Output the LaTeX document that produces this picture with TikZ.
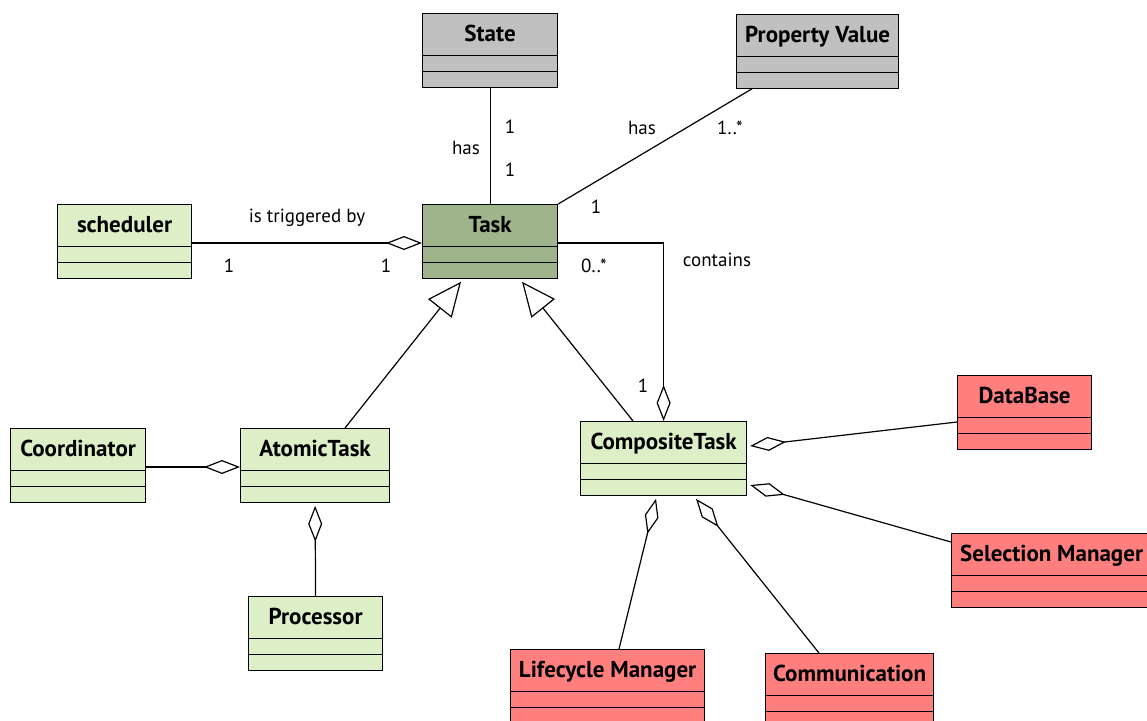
\documentclass[tikz,border=0pt]{standalone}
\usepackage{fontspec}
\usepackage{xcolor}
\usetikzlibrary{arrows.meta,shapes.multipart}
\newfontfamily\umlfont{PT Sans}
\definecolor{umlgray}{HTML}{C0C0C0}
\definecolor{umltask}{HTML}{9FB48A}
\definecolor{umllight}{HTML}{DCEFC7}
\definecolor{umlred}{HTML}{FF7F7F}
\newcommand{\classtitle}[1]{\rule[-14pt]{0pt}{41pt}#1}

\tikzset{
  umlclass/.style={rectangle split, rectangle split parts=3, draw, line width=1.2pt,
    anchor=north west, inner xsep=3pt, inner ysep=0pt,
    rectangle split empty part height=14.5pt, rectangle split empty part depth=0pt,
    font=\umlfont\bfseries\fontsize{23}{25}\selectfont},
  lbl/.style={font=\umlfont\fontsize{19}{21}\selectfont, inner sep=0pt},
  link/.style={line width=1.2pt},
  aggr/.style={link, -{Diamond[open, length=36pt, width=14pt, line width=1.2pt]}},
  gen/.style={link, -{Triangle[open, length=34pt, width=30pt, line width=1.2pt]}}
}

\begin{document}
\begin{tikzpicture}[x=1pt, y=-1pt]
\useasboundingbox (0,0) rectangle (1147,720);
% classes
\node[umlclass, fill=umlgray, minimum width=135pt] (state) at (422,13) {\classtitle{State}\nodepart{second}\nodepart{third}};
\node[umlclass, fill=umlgray, minimum width=162pt] (pv) at (736,14) {\classtitle{Property Value}\nodepart{second}\nodepart{third}};
\node[umlclass, fill=umltask, minimum width=135pt] (task) at (422,204) {\classtitle{Task}\nodepart{second}\nodepart{third}};
\node[umlclass, fill=umllight, minimum width=134pt] (sched) at (57,204) {\classtitle{scheduler}\nodepart{second}\nodepart{third}};
\node[umlclass, fill=umllight, minimum width=135pt] (coord) at (10,428) {\classtitle{Coordinator}\nodepart{second}\nodepart{third}};
\node[umlclass, fill=umllight, minimum width=149pt] (atomic) at (240,428) {\classtitle{AtomicTask}\nodepart{second}\nodepart{third}};
\node[umlclass, fill=umllight, minimum width=134pt] (proc) at (248,596) {\classtitle{Processor}\nodepart{second}\nodepart{third}};
\node[umlclass, fill=umllight, minimum width=166pt] (comp) at (580,421) {\classtitle{CompositeTask}\nodepart{second}\nodepart{third}};
\node[umlclass, fill=umlred, minimum width=134pt] (db) at (957,375) {\classtitle{DataBase}\nodepart{second}\nodepart{third}};
\node[umlclass, fill=umlred, minimum width=200pt] (sel) at (951,533) {\classtitle{Selection Manager}\nodepart{second}\nodepart{third}};
\node[umlclass, fill=umlred, minimum width=194pt] (life) at (510,649) {\classtitle{Lifecycle Manager}\nodepart{second}\nodepart{third}};
\node[umlclass, fill=umlred, minimum width=168pt] (comm) at (765,653) {\classtitle{Communication}\nodepart{second}\nodepart{third}};

% associations
\draw[link] (state.south) -- (task.north);
\draw[link] ([xshift=16pt]pv.south west) -- (task.north east);
\draw[aggr] ([yshift=-39pt]sched.north east) -- ([yshift=-39pt]task.north west);
\draw[aggr] ([yshift=-39pt]task.north east) -| (comp.north);
\draw[aggr] ([yshift=-39pt]coord.north east) -- ([yshift=-39pt]atomic.north west);
\draw[aggr] (proc.north) -- ([yshift=-3pt]atomic.south);
\draw[aggr] ([yshift=-47pt]db.north west) -- ([xshift=3pt,yshift=-25pt]comp.north east);
\draw[aggr] ([yshift=-9pt]sel.north west) -- ([xshift=3pt,yshift=-64pt]comp.north east);
\draw[aggr] ([xshift=109pt]life.north west) -- ([xshift=76pt,yshift=-3pt]comp.south west);
\draw[aggr] ([xshift=54pt]comm.north west) -- ([xshift=116pt,yshift=-3pt]comp.south west);

% generalizations
\draw[gen] ([xshift=105pt]atomic.north west) -- ([xshift=39pt,yshift=-3pt]task.south west);
\draw[gen] ([xshift=53pt]comp.north west) -- ([xshift=100pt,yshift=-3pt]task.south west);

% labels
\node[lbl] (hasstate) at (466,148) {has};
\node[lbl] (mstatea) at (510,127) {1};
\node[lbl] (mstateb) at (510,170) {1};
\node[lbl] (haspv) at (642,128) {has};
\node[lbl] (mpva) at (730,128) {1..*};
\node[lbl] (mpvb) at (596,207) {1};
\node[lbl] (trig) at (307,218) {is triggered by};
\node[lbl] (mscha) at (229,266) {1};
\node[lbl] (mschb) at (386,266) {1};
\node[lbl] (contains) at (717,260) {contains};
\node[lbl] (mcona) at (594,266) {0..*};
\node[lbl] (mconb) at (643,386) {1};
\end{tikzpicture}
\end{document}
